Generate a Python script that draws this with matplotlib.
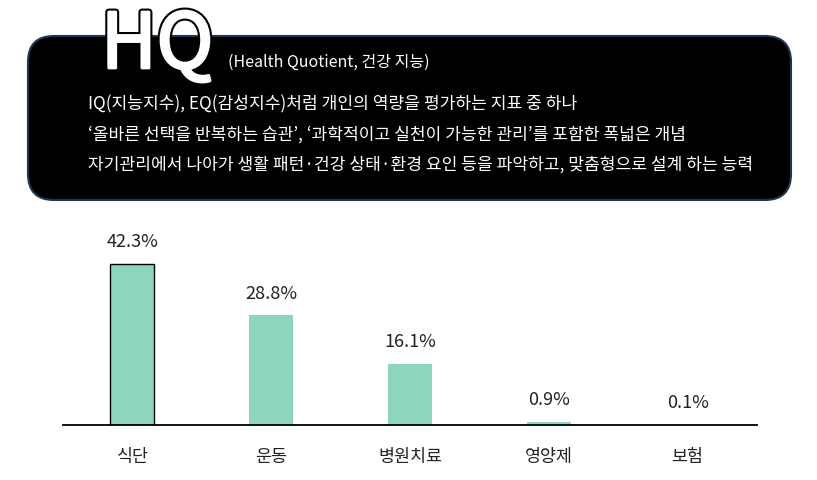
import matplotlib.pyplot as plt
import matplotlib.patheffects as pe
from matplotlib.patches import FancyBboxPatch

plt.rcParams['font.family'] = ['Noto Sans CJK KR', 'DejaVu Sans']

categories = ['식단', '운동', '병원치료', '영양제', '보험']
values = [42.3, 28.8, 16.1, 0.9, 0.1]
labels = ['42.3%', '28.8%', '16.1%', '0.9%', '0.1%']

title_big = 'HQ'
title_small = '(Health Quotient, 건강 지능)'
desc_lines = [
    'IQ(지능지수), EQ(감성지수)처럼 개인의 역량을 평가하는 지표 중 하나',
    '‘올바른 선택을 반복하는 습관’, ‘과학적이고 실천이 가능한 관리’를 포함한 폭넓은 개념',
    '자기관리에서 나아가 생활 패턴·건강 상태·환경 요인 등을 파악하고, 맞춤형으로 설계 하는 능력',
]

W, H = 817, 481
fig = plt.figure(figsize=(W / 100, H / 100), dpi=100)

# 상단 설명 박스 (픽셀 좌표)
bg = fig.add_axes([0, 0, 1, 1])
bg.set_xlim(0, W)
bg.set_ylim(H, 0)
bg.axis('off')
box = FancyBboxPatch((28, 37), 763, 164, boxstyle='round,pad=0,rounding_size=26',
                     facecolor='black', edgecolor='#1f3556', linewidth=1.5)
bg.add_patch(box)
bg.text(101, 69, title_big, fontsize=55, color='white',
        va='baseline', ha='left',
        path_effects=[pe.Stroke(linewidth=5, foreground='black'),
                      pe.Stroke(linewidth=2, foreground='white'),
                      pe.Normal()])
bg.text(228, 67, title_small, fontsize=11.5, color='white', va='baseline')
for i, line in enumerate(desc_lines):
    bg.text(88, 109 + i * 30.5, line, fontsize=12.3, color='white', va='baseline')

# 막대 차트
ax = fig.add_axes([63 / W, (H - 426) / H, 694 / W, 190.5 / H])
x = range(len(categories))
bars = ax.bar(x, values, width=0.317, color='#8dd6bd')
bars[0].set_edgecolor('black')
bars[0].set_linewidth(1.0)
for i, v in enumerate(values):
    ax.text(i, v + 3.6, labels[i], ha='center', va='bottom', fontsize=13, color='#222222')
ax.set_xlim(-0.5, 4.5)
ax.set_ylim(0, 50)
ax.set_xticks(list(x))
ax.set_xticklabels(categories, fontsize=12.5, color='#222222')
ax.tick_params(axis='x', length=0, pad=16)
ax.set_yticks([])
for s in ['top', 'right', 'left']:
    ax.spines[s].set_visible(False)
ax.spines['bottom'].set_linewidth(1.3)
ax.spines['bottom'].set_color('black')
ax.set_facecolor('none')

fig.savefig('out.png', dpi=100)
